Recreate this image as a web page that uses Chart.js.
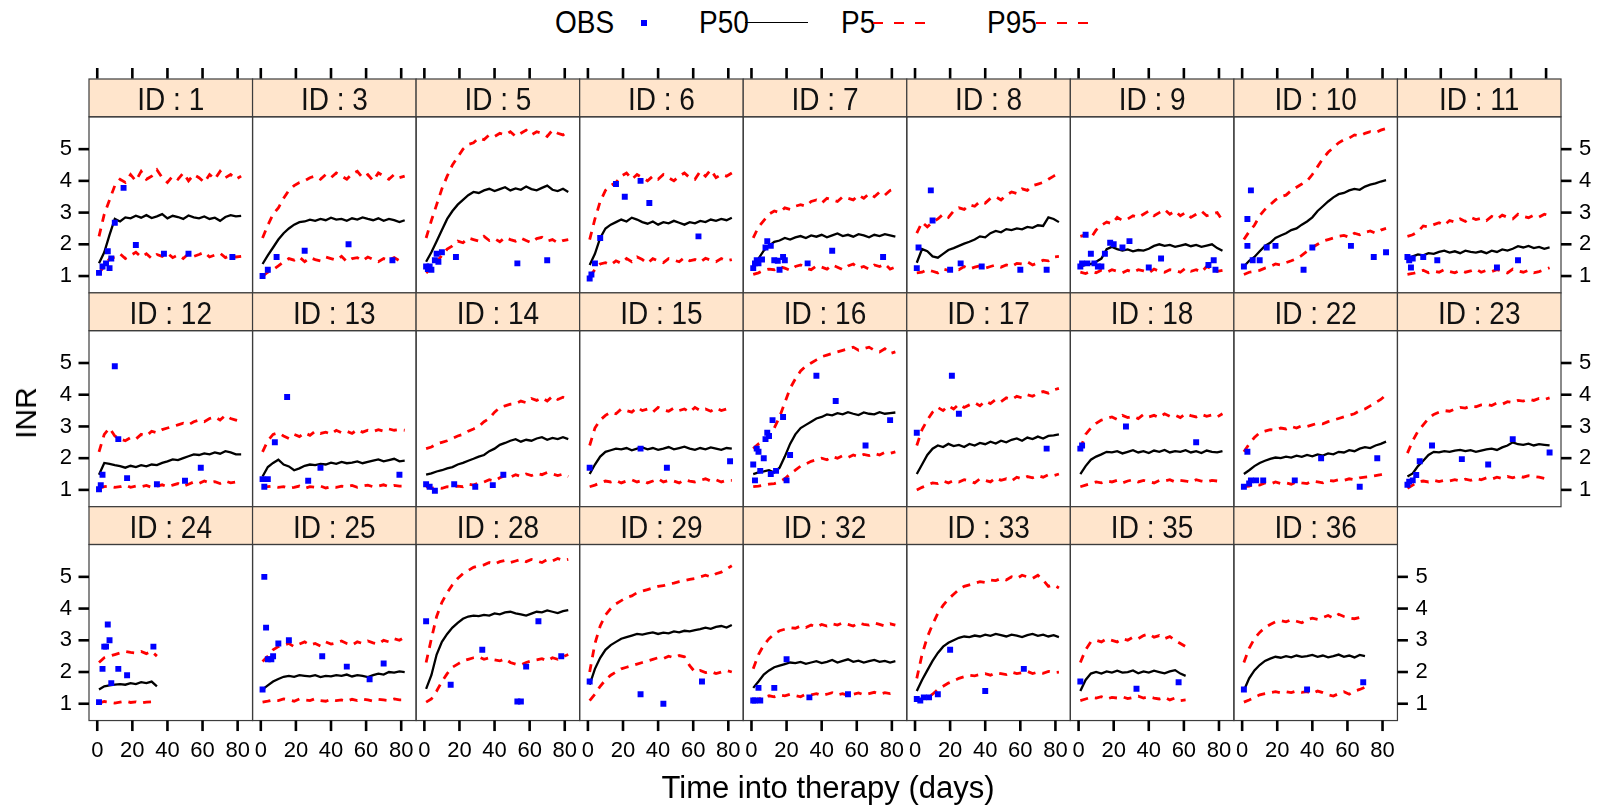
<!DOCTYPE html>
<html>
<head>
<meta charset="utf-8">
<script src="https://cdn.jsdelivr.net/npm/chart.js@4.4.0/dist/chart.umd.min.js"></script>
<style>
  html, body { margin: 0; padding: 0; background: #fff; overflow: hidden; }
  body { width: 1604px; height: 812px; position: relative; font-family: "Liberation Sans", Arial, sans-serif; }
  canvas { position: absolute; }
  .txt { position: absolute; white-space: nowrap; color: #000; line-height: 1; }
  .sym { position: absolute; }
</style>
</head>
<body>
<script>
// Patient panels, in lattice order (left to right, top to bottom)
const IDS = [1, 3, 5, 6, 7, 8, 9, 10, 11, 12, 13, 14, 15, 16, 17, 18, 22, 23, 24, 25, 28, 29, 32, 33, 35, 36];
// Simulation grid (days) shared by the percentile curves
const DAYS = [1, 4, 7, 10, 13, 16, 19, 22, 25, 28, 31, 34, 37, 40, 43, 46, 49, 52, 55, 58, 61, 64, 67, 70, 73, 76, 79, 82];
const X_TICKS = [0, 20, 40, 60, 80];
const Y_TICKS = [1, 2, 3, 4, 5];

// Median prediction per patient
const P50 = [
  [1.40,1.75,2.30,2.80,2.72,2.85,2.82,2.90,2.84,2.92,2.83,2.88,2.95,2.82,2.90,2.86,2.80,2.91,2.85,2.82,2.88,2.80,2.84,2.74,2.86,2.92,2.88,2.90],
  [1.38,1.65,1.90,2.15,2.35,2.50,2.62,2.70,2.72,2.78,2.74,2.80,2.76,2.84,2.78,2.80,2.74,2.82,2.78,2.85,2.80,2.76,2.82,2.74,2.80,2.76,2.70,2.76],
  [1.45,1.75,2.10,2.45,2.80,3.05,3.25,3.40,3.55,3.65,3.62,3.70,3.75,3.68,3.74,3.80,3.70,3.76,3.72,3.82,3.74,3.70,3.78,3.85,3.72,3.68,3.75,3.65],
  [1.35,1.70,2.20,2.50,2.62,2.70,2.78,2.72,2.84,2.78,2.70,2.65,2.72,2.62,2.70,2.66,2.74,2.68,2.62,2.70,2.66,2.74,2.70,2.78,2.74,2.80,2.76,2.84],
  [1.40,1.55,1.80,1.95,2.08,2.12,2.20,2.15,2.22,2.26,2.20,2.28,2.24,2.30,2.22,2.28,2.34,2.26,2.30,2.24,2.32,2.28,2.22,2.30,2.26,2.32,2.28,2.24],
  [1.42,1.85,1.78,1.62,1.58,1.70,1.82,1.88,1.95,2.02,2.08,2.15,2.25,2.22,2.35,2.42,2.38,2.48,2.45,2.50,2.47,2.55,2.52,2.60,2.58,2.85,2.80,2.70],
  [1.30,1.35,1.38,1.45,1.55,1.85,1.92,1.85,1.80,1.84,1.78,1.82,1.80,1.86,1.95,2.00,1.95,1.98,1.92,1.96,2.00,1.94,1.98,1.92,1.96,2.00,1.88,1.80],
  [1.30,1.48,1.60,1.78,1.95,2.05,2.20,2.28,2.35,2.45,2.50,2.62,2.72,2.85,3.05,3.20,3.35,3.48,3.58,3.62,3.70,3.75,3.72,3.82,3.88,3.92,3.98,4.02],
  [1.55,1.62,1.68,1.65,1.72,1.70,1.76,1.80,1.74,1.78,1.72,1.80,1.76,1.74,1.78,1.72,1.80,1.76,1.84,1.80,1.86,1.94,1.90,1.95,1.88,1.92,1.86,1.90],
  [1.48,1.85,1.82,1.78,1.75,1.70,1.76,1.72,1.78,1.74,1.80,1.78,1.85,1.90,1.96,1.94,2.00,2.06,2.12,2.10,2.15,2.12,2.18,2.14,2.22,2.18,2.12,2.12],
  [1.42,1.72,1.85,1.95,1.80,1.74,1.62,1.68,1.76,1.80,1.78,1.82,1.80,1.86,1.82,1.88,1.84,1.86,1.90,1.84,1.88,1.92,1.96,1.90,1.94,1.98,1.90,1.92],
  [1.48,1.52,1.58,1.62,1.68,1.72,1.80,1.85,1.92,1.98,2.05,2.10,2.22,2.30,2.42,2.48,2.55,2.60,2.52,2.58,2.55,2.62,2.66,2.58,2.64,2.60,2.66,2.60],
  [1.50,1.80,2.05,2.20,2.25,2.30,2.28,2.32,2.25,2.30,2.34,2.28,2.32,2.26,2.30,2.35,2.28,2.32,2.36,2.30,2.26,2.32,2.28,2.34,2.30,2.26,2.32,2.30],
  [1.50,1.55,1.58,1.62,1.55,1.70,2.05,2.45,2.75,2.95,3.05,3.15,3.25,3.30,3.38,3.35,3.42,3.38,3.45,3.40,3.36,3.44,3.40,3.38,3.45,3.40,3.42,3.44],
  [1.50,1.80,2.10,2.30,2.40,2.35,2.45,2.38,2.42,2.35,2.45,2.40,2.48,2.44,2.52,2.46,2.55,2.50,2.58,2.62,2.55,2.65,2.60,2.68,2.62,2.70,2.72,2.75],
  [1.50,1.75,1.95,2.05,2.12,2.20,2.18,2.22,2.15,2.20,2.25,2.18,2.22,2.16,2.24,2.20,2.26,2.18,2.22,2.20,2.25,2.18,2.22,2.16,2.24,2.20,2.18,2.22],
  [1.50,1.62,1.75,1.85,1.92,1.98,2.02,2.00,2.05,2.02,2.08,2.04,2.10,2.06,2.12,2.08,2.15,2.12,2.20,2.18,2.25,2.22,2.30,2.35,2.32,2.40,2.45,2.52],
  [1.42,1.52,1.75,1.92,2.10,2.20,2.18,2.22,2.20,2.24,2.26,2.22,2.25,2.20,2.24,2.28,2.30,2.26,2.34,2.40,2.50,2.44,2.42,2.46,2.40,2.44,2.42,2.40],
  [1.45,1.55,1.58,1.60,1.62,1.60,1.65,1.62,1.68,1.65,1.70,1.55],
  [1.45,1.58,1.70,1.78,1.85,1.88,1.85,1.90,1.88,1.86,1.90,1.84,1.88,1.86,1.90,1.88,1.92,1.86,1.90,1.88,1.84,1.90,1.95,1.92,2.00,1.98,2.02,2.00],
  [1.47,1.90,2.55,2.95,3.20,3.40,3.55,3.68,3.75,3.78,3.76,3.80,3.78,3.85,3.82,3.88,3.90,3.85,3.82,3.78,3.84,3.90,3.88,3.94,3.90,3.86,3.92,3.95],
  [1.60,2.10,2.45,2.70,2.85,2.95,3.05,3.10,3.15,3.20,3.18,3.22,3.25,3.20,3.24,3.22,3.28,3.25,3.30,3.28,3.32,3.35,3.40,3.36,3.42,3.45,3.40,3.48],
  [1.50,1.70,1.92,2.05,2.15,2.20,2.25,2.30,2.28,2.32,2.26,2.30,2.34,2.28,2.32,2.38,2.30,2.35,2.40,2.32,2.36,2.30,2.34,2.38,2.32,2.35,2.30,2.34],
  [1.40,1.75,2.05,2.35,2.60,2.80,2.92,3.00,3.08,3.12,3.10,3.15,3.12,3.18,3.14,3.20,3.16,3.12,3.18,3.15,3.10,3.16,3.20,3.14,3.18,3.12,3.16,3.10],
  [1.40,1.75,1.95,2.00,1.95,2.02,1.98,2.04,1.98,2.00,2.05,1.96,2.02,1.98,2.04,2.00,1.96,2.02,2.06,1.95,1.88],
  [1.42,1.80,2.05,2.22,2.35,2.42,2.48,2.45,2.50,2.46,2.52,2.48,2.50,2.54,2.48,2.52,2.46,2.50,2.55,2.48,2.52,2.46,2.54,2.50]
];

// Upper 95th percentile
const P95 = [
  [2.25,2.95,3.40,3.85,4.05,3.95,4.20,4.00,4.30,4.05,4.15,4.35,4.10,3.95,4.15,4.05,4.25,4.00,4.20,4.10,3.95,4.20,4.05,4.30,4.10,4.20,4.05,4.15],
  [2.20,2.60,2.95,3.15,3.45,3.70,3.85,3.95,4.00,4.10,4.15,4.05,4.20,4.10,4.25,4.15,4.05,4.22,4.30,4.10,4.20,4.00,4.25,4.15,4.05,4.20,4.10,4.15],
  [2.20,2.75,3.25,3.75,4.15,4.50,4.75,5.00,5.15,5.20,5.35,5.30,5.45,5.40,5.50,5.45,5.55,5.40,5.50,5.60,5.45,5.55,5.50,5.40,5.60,5.50,5.45,5.55],
  [2.15,2.80,3.35,3.70,3.85,3.95,4.15,4.25,4.05,4.20,4.10,4.00,4.15,4.05,4.20,4.10,4.00,4.15,4.25,4.10,4.05,4.30,4.15,4.35,4.10,4.20,4.15,4.25],
  [2.20,2.55,2.75,2.95,3.05,3.00,3.15,3.10,3.20,3.25,3.20,3.35,3.40,3.30,3.45,3.40,3.35,3.50,3.45,3.40,3.55,3.45,3.60,3.50,3.65,3.55,3.70,3.75],
  [2.35,2.70,2.55,2.70,2.80,2.95,2.85,3.05,3.15,3.10,3.25,3.20,3.35,3.30,3.45,3.50,3.40,3.55,3.65,3.60,3.75,3.70,3.85,3.90,3.95,4.05,4.15,4.25],
  [2.25,2.30,2.20,2.45,2.60,2.70,2.65,2.85,2.75,2.80,2.90,2.85,2.95,3.05,2.90,3.00,3.10,2.95,3.05,2.90,3.00,2.85,2.95,3.05,2.90,2.95,3.00,2.75],
  [2.15,2.40,2.60,2.90,3.10,3.25,3.40,3.50,3.55,3.70,3.80,3.90,4.00,4.20,4.45,4.70,4.90,5.05,5.20,5.30,5.35,5.45,5.42,5.50,5.55,5.52,5.60,5.65],
  [2.25,2.30,2.40,2.58,2.55,2.62,2.68,2.60,2.75,2.70,2.80,2.72,2.85,2.78,2.82,2.75,2.88,2.80,2.92,2.85,2.80,2.95,2.88,2.84,2.92,2.86,2.95,2.90],
  [2.20,2.75,2.95,2.70,2.60,2.55,2.65,2.60,2.75,2.70,2.85,2.80,2.90,2.95,3.00,3.05,3.10,3.05,3.15,3.20,3.15,3.25,3.30,3.20,3.35,3.25,3.20,3.15],
  [2.20,2.55,2.75,2.80,2.70,2.62,2.75,2.68,2.80,2.72,2.85,2.78,2.82,2.76,2.88,2.80,2.85,2.78,2.90,2.82,2.88,2.84,2.90,2.85,2.92,2.88,2.90,2.88],
  [2.30,2.35,2.45,2.50,2.55,2.62,2.70,2.75,2.85,2.92,3.00,3.15,3.25,3.45,3.60,3.65,3.70,3.72,3.80,3.75,3.88,3.82,3.90,3.80,3.95,3.85,3.92,3.85],
  [2.40,2.95,3.20,3.35,3.45,3.40,3.55,3.50,3.45,3.60,3.50,3.55,3.45,3.60,3.52,3.48,3.58,3.50,3.55,3.45,3.60,3.50,3.55,3.48,3.58,3.50,3.55,3.50],
  [2.30,2.45,2.55,2.70,2.95,3.30,3.75,4.20,4.50,4.75,4.90,5.00,5.10,5.20,5.25,5.30,5.35,5.40,5.45,5.50,5.40,5.45,5.50,5.40,5.35,5.45,5.30,5.35],
  [2.40,2.90,3.20,3.45,3.60,3.50,3.65,3.55,3.70,3.60,3.68,3.75,3.65,3.80,3.72,3.85,3.78,3.90,3.85,3.95,3.90,4.00,3.95,4.05,4.10,4.05,4.15,4.20],
  [2.30,2.75,2.95,3.10,3.20,3.25,3.30,3.22,3.35,3.28,3.32,3.25,3.38,3.30,3.35,3.28,3.40,3.32,3.36,3.28,3.40,3.34,3.30,3.38,3.32,3.36,3.30,3.40],
  [2.20,2.45,2.65,2.80,2.85,2.90,2.88,2.95,2.92,3.00,2.95,3.02,3.00,3.05,3.10,3.08,3.15,3.20,3.25,3.30,3.35,3.40,3.50,3.55,3.65,3.75,3.85,4.00],
  [2.16,2.55,2.85,3.05,3.25,3.38,3.45,3.50,3.48,3.55,3.60,3.58,3.65,3.62,3.68,3.70,3.66,3.74,3.70,3.78,3.75,3.82,3.80,3.86,3.82,3.88,3.85,3.90],
  [2.30,2.45,2.50,2.55,2.60,2.65,2.62,2.60,2.65,2.58,2.65,2.50],
  [2.33,2.50,2.70,2.80,2.85,2.90,2.80,2.88,2.95,2.85,2.90,2.82,2.95,2.88,2.92,2.98,2.90,2.85,2.95,2.90,2.98,2.92,2.88,3.00,2.95,3.05,3.00,3.10],
  [2.30,3.05,3.75,4.20,4.50,4.75,4.95,5.10,5.20,5.30,5.35,5.38,5.45,5.40,5.48,5.52,5.45,5.50,5.55,5.48,5.55,5.50,5.45,5.55,5.50,5.58,5.52,5.55],
  [2.00,2.90,3.45,3.80,4.00,4.15,4.25,4.35,4.40,4.50,4.55,4.60,4.65,4.70,4.72,4.78,4.80,4.85,4.88,4.92,4.95,5.00,5.05,5.00,5.10,5.15,5.25,5.35],
  [2.10,2.55,2.85,3.05,3.20,3.30,3.35,3.40,3.38,3.45,3.40,3.48,3.42,3.50,3.45,3.52,3.48,3.55,3.50,3.45,3.55,3.50,3.48,3.55,3.50,3.45,3.52,3.48],
  [1.80,2.55,3.10,3.50,3.85,4.10,4.30,4.45,4.60,4.70,4.75,4.80,4.85,4.82,4.90,4.88,4.95,4.90,5.00,4.95,5.05,5.00,4.95,5.05,4.90,4.70,4.75,4.65],
  [2.30,2.70,2.95,3.00,2.95,3.05,3.00,2.95,3.05,3.00,3.10,3.05,3.15,3.20,3.10,3.15,3.05,3.12,3.00,2.90,2.80],
  [2.30,2.75,3.05,3.25,3.40,3.50,3.58,3.62,3.58,3.65,3.60,3.55,3.65,3.70,3.66,3.72,3.78,3.70,3.82,3.75,3.70,3.68,3.72,3.70]
];

// Lower 5th percentile
const P5 = [
  [1.10,1.30,1.55,1.60,1.70,1.55,1.65,1.75,1.60,1.70,1.55,1.68,1.62,1.72,1.58,1.66,1.55,1.70,1.62,1.68,1.75,1.60,1.66,1.72,1.58,1.65,1.60,1.62],
  [1.00,1.12,1.20,1.32,1.45,1.55,1.50,1.60,1.45,1.58,1.52,1.48,1.60,1.55,1.50,1.62,1.45,1.55,1.58,1.48,1.60,1.52,1.45,1.55,1.50,1.58,1.48,1.52],
  [1.10,1.25,1.45,1.65,1.85,1.95,2.10,2.05,2.20,2.15,2.10,2.25,2.12,2.18,2.08,2.22,2.15,2.10,2.20,2.12,2.05,2.18,2.22,2.10,2.15,2.05,2.12,2.15],
  [1.00,1.20,1.38,1.42,1.35,1.48,1.40,1.55,1.45,1.60,1.52,1.40,1.55,1.48,1.42,1.55,1.50,1.45,1.58,1.48,1.52,1.44,1.56,1.50,1.45,1.55,1.48,1.52],
  [1.05,1.10,1.18,1.22,1.20,1.30,1.25,1.18,1.30,1.35,1.25,1.20,1.32,1.28,1.22,1.35,1.28,1.20,1.32,1.38,1.25,1.30,1.22,1.35,1.30,1.38,1.22,1.28],
  [1.10,1.12,1.20,1.15,1.10,1.22,1.18,1.25,1.20,1.30,1.22,1.28,1.32,1.25,1.30,1.35,1.28,1.35,1.30,1.40,1.38,1.45,1.35,1.42,1.50,1.48,1.60,1.62],
  [1.12,1.08,1.15,1.10,1.18,1.12,1.20,1.15,1.10,1.18,1.12,1.20,1.16,1.10,1.22,1.15,1.12,1.20,1.18,1.12,1.25,1.15,1.20,1.12,1.30,1.22,1.15,1.18],
  [1.05,1.12,1.15,1.18,1.25,1.30,1.38,1.35,1.42,1.48,1.55,1.65,1.78,1.90,2.00,2.10,2.15,2.20,2.25,2.28,2.22,2.35,2.30,2.38,2.42,2.35,2.45,2.50],
  [1.05,1.08,1.12,1.18,1.10,1.15,1.12,1.20,1.14,1.10,1.18,1.12,1.16,1.22,1.12,1.18,1.14,1.20,1.15,1.10,1.22,1.16,1.12,1.18,1.10,1.14,1.20,1.26],
  [1.05,1.10,1.12,1.08,1.10,1.15,1.08,1.12,1.10,1.14,1.08,1.12,1.16,1.10,1.15,1.20,1.12,1.18,1.25,1.20,1.28,1.22,1.26,1.20,1.28,1.22,1.25,1.20],
  [1.08,1.10,1.12,1.08,1.10,1.05,1.08,1.12,1.05,1.10,1.08,1.12,1.06,1.10,1.08,1.12,1.10,1.14,1.08,1.12,1.15,1.10,1.12,1.16,1.10,1.14,1.12,1.12],
  [1.10,1.05,1.08,1.05,1.10,1.08,1.12,1.10,1.18,1.15,1.22,1.25,1.32,1.28,1.38,1.45,1.40,1.48,1.42,1.50,1.45,1.52,1.48,1.55,1.50,1.45,1.50,1.42],
  [1.10,1.15,1.22,1.28,1.25,1.30,1.22,1.28,1.32,1.25,1.30,1.22,1.28,1.35,1.25,1.30,1.28,1.22,1.32,1.28,1.25,1.30,1.35,1.28,1.32,1.25,1.30,1.30],
  [1.10,1.12,1.15,1.18,1.20,1.25,1.35,1.50,1.62,1.75,1.82,1.90,1.95,2.00,1.95,2.05,2.00,2.08,2.02,2.10,2.05,2.12,2.08,2.15,2.10,2.18,2.15,2.20],
  [1.00,1.08,1.15,1.22,1.20,1.28,1.22,1.30,1.25,1.32,1.28,1.22,1.35,1.30,1.25,1.38,1.30,1.35,1.28,1.40,1.35,1.42,1.38,1.45,1.40,1.48,1.45,1.50],
  [1.10,1.15,1.20,1.25,1.22,1.28,1.25,1.30,1.22,1.28,1.32,1.25,1.30,1.26,1.22,1.30,1.28,1.32,1.25,1.30,1.28,1.24,1.32,1.28,1.25,1.30,1.28,1.30],
  [1.10,1.12,1.18,1.15,1.22,1.18,1.25,1.20,1.22,1.18,1.25,1.22,1.20,1.28,1.25,1.22,1.30,1.28,1.32,1.30,1.35,1.32,1.38,1.40,1.42,1.45,1.48,1.52],
  [1.05,1.15,1.25,1.28,1.25,1.30,1.26,1.30,1.28,1.32,1.28,1.34,1.30,1.36,1.32,1.38,1.34,1.40,1.36,1.42,1.38,1.44,1.40,1.45,1.42,1.40,1.36,1.34],
  [1.02,1.07,1.05,1.02,1.05,1.08,1.04,1.06,1.02,1.05,1.06,1.04],
  [1.05,1.08,1.12,1.10,1.15,1.12,1.08,1.15,1.12,1.10,1.16,1.10,1.08,1.14,1.10,1.12,1.08,1.14,1.10,1.15,1.12,1.08,1.14,1.12,1.10,1.15,1.12,1.12],
  [1.05,1.15,1.40,1.70,1.95,2.15,2.25,2.35,2.40,2.45,2.48,2.40,2.45,2.38,2.35,2.42,2.30,2.25,2.22,2.30,2.35,2.38,2.42,2.35,2.45,2.40,2.48,2.55],
  [1.10,1.30,1.55,1.75,1.90,2.00,2.10,2.15,2.20,2.25,2.30,2.35,2.40,2.45,2.42,2.50,2.45,2.52,2.48,2.20,2.00,2.05,1.98,2.02,1.95,2.00,2.05,2.00],
  [1.10,1.15,1.20,1.25,1.22,1.28,1.25,1.30,1.26,1.22,1.30,1.28,1.32,1.26,1.30,1.35,1.28,1.32,1.26,1.30,1.34,1.28,1.32,1.36,1.30,1.35,1.32,1.35],
  [1.10,1.15,1.20,1.30,1.45,1.55,1.65,1.72,1.80,1.85,1.90,1.88,1.92,1.95,1.90,1.98,1.95,1.92,2.00,1.95,1.98,2.02,1.95,2.00,1.96,2.02,1.98,2.00],
  [1.10,1.15,1.20,1.18,1.22,1.15,1.20,1.18,1.22,1.16,1.20,1.24,1.18,1.22,1.18,1.15,1.20,1.12,1.18,1.10,1.12],
  [1.05,1.12,1.20,1.28,1.32,1.35,1.38,1.34,1.38,1.35,1.40,1.36,1.38,1.32,1.40,1.35,1.28,1.24,1.32,1.38,1.30,1.40,1.45,1.52]
];

// Observed INR: measurement day and value
const OBS_DAY = [
  [1,3,5,6,7,8,10,15,22,38,52,77],
  [1,4,9,25,50,75],
  [1,2,3,4,6,7,8,10,18,53,70],
  [1,2,4,7,16,21,30,35,63],
  [1,2,3,4,6,8,9,11,13,15,16,18,19,32,46,75],
  [1,2,9,10,20,26,38,60,75],
  [1,2,4,5,7,9,11,13,15,18,20,25,29,40,47,74,77,78],
  [1,3,3,5,6,10,14,19,35,40,62,75,82],
  [1,2,3,4,10,18,52,64],
  [1,2,3,10,12,17,34,50,59],
  [1,2,4,8,15,27,34,79],
  [1,3,6,17,29,39,45],
  [1,30,45,81],
  [1,2,3,4,5,7,8,9,10,11,12,14,18,20,22,37,48,65,79],
  [1,21,25,75],
  [1,2,27,67],
  [1,3,4,5,8,12,30,45,67,77],
  [1,2,4,6,8,15,32,47,61,82],
  [1,3,4,5,6,7,8,12,17,32],
  [1,2,3,4,6,7,10,16,35,49,62,70],
  [1,15,33,53,55,58,65,78],
  [1,30,43,65],
  [1,2,4,5,13,20,33,55],
  [1,3,5,8,13,20,40,62],
  [1,33,57],
  [1,37,69]
];
const OBS_INR = [
  [1.10,1.30,1.40,1.78,1.25,1.55,2.68,3.78,1.98,1.70,1.70,1.60],
  [1.00,1.20,1.60,1.80,2.00,1.50],
  [1.30,1.22,1.30,1.20,1.50,1.70,1.45,1.75,1.60,1.40,1.50],
  [0.92,1.05,1.40,2.20,3.90,3.50,4.00,3.30,2.25],
  [1.25,1.40,1.50,1.40,1.52,1.90,2.10,1.95,1.50,1.48,1.20,1.60,1.50,1.40,1.80,1.60],
  [1.25,1.90,3.70,2.75,1.20,1.40,1.30,1.20,1.20],
  [1.30,1.40,2.30,1.40,1.70,1.40,1.30,1.30,1.70,2.05,2.00,1.90,2.10,1.27,1.55,1.35,1.50,1.20],
  [1.30,1.95,2.80,3.70,1.50,1.50,1.90,1.95,1.20,1.90,1.95,1.60,1.75],
  [1.60,1.50,1.27,1.55,1.60,1.50,1.27,1.50],
  [1.02,1.15,1.48,4.90,2.60,1.37,1.18,1.29,1.70],
  [1.34,1.10,1.34,2.50,3.93,1.29,1.70,1.48],
  [1.18,1.10,0.97,1.18,1.10,1.15,1.48],
  [1.70,2.30,1.70,1.90],
  [1.80,1.30,2.30,2.20,1.60,2.00,2.60,2.80,2.70,1.50,3.20,1.60,3.30,1.30,2.10,4.60,3.80,2.40,3.20],
  [2.80,4.60,3.40,2.30],
  [2.30,2.40,3.00,2.50],
  [1.10,2.20,1.20,1.30,1.30,1.30,1.30,2.00,1.10,2.00],
  [1.16,1.26,1.30,1.47,1.90,2.40,1.97,1.80,2.60,2.18],
  [1.05,2.10,2.80,2.80,3.50,3.00,1.65,2.10,1.90,2.80],
  [1.45,5.00,3.40,2.40,2.40,2.50,2.90,3.00,2.50,2.17,1.77,2.27],
  [3.60,1.60,2.70,1.07,1.07,2.17,3.60,2.50],
  [1.70,1.30,1.00,1.70],
  [1.10,1.10,1.50,1.10,1.50,2.40,1.20,1.30],
  [1.15,1.10,1.20,1.20,1.30,2.70,1.40,2.10],
  [1.70,1.47,1.68],
  [1.45,1.45,1.68]
];

// ---- layout ----
const FONT = '"Liberation Sans", Arial, sans-serif';
const NARROW = 0.875;              // horizontal squeeze of strip and key text
const GRID_LEFT = 89, GRID_RIGHT = 1561, NCOL = 9;
const CELL_W = (GRID_RIGHT - GRID_LEFT) / NCOL;
const ROW_TOP = [79, 292.85, 506.7];
const STRIP_H = 37.8, PANEL_H = 176.05;
const X_MIN = -4.7, X_MAX = 88.5, Y_MIN = 0.47, Y_MAX = 6.02;
const TICK_LEN = 10.5;

function pairs(xs, ys) {
  return ys.map((v, k) => ({ x: xs[k], y: v }));
}

function narrowText(ctx, str, x, y, size) {
  ctx.save();
  ctx.translate(x, y);
  ctx.scale(NARROW, 1);
  ctx.font = size + 'px ' + FONT;
  ctx.fillText(str, 0, 0);
  ctx.restore();
}

function tick(ctx, x1, y1, x2, y2) {
  ctx.beginPath();
  ctx.moveTo(x1, y1);
  ctx.lineTo(x2, y2);
  ctx.stroke();
}

// strip, frame and axis ticks of one lattice panel
const latticePlugin = {
  id: 'lattice',
  afterDraw(chart, args, o) {
    const { ctx, chartArea: a } = chart;
    const xs = chart.scales.x, ys = chart.scales.y;
    const w = a.right - a.left;
    ctx.save();
    ctx.fillStyle = '#ffe5cc';
    ctx.fillRect(a.left, a.top - STRIP_H, w, STRIP_H);
    ctx.strokeStyle = '#3c3c3c';
    ctx.lineWidth = 1.2;
    ctx.strokeRect(a.left, a.top - STRIP_H, w, STRIP_H);
    ctx.strokeRect(a.left, a.top, w, a.bottom - a.top);

    ctx.fillStyle = '#111';
    ctx.textAlign = 'center';
    ctx.textBaseline = 'alphabetic';
    narrowText(ctx, 'ID : ' + o.id, (a.left + a.right) / 2, a.top - STRIP_H + 31, 32);

    ctx.strokeStyle = '#000';
    ctx.lineWidth = 2.6;
    ctx.font = '22px ' + FONT;
    ctx.fillStyle = '#000';
    if (o.top) {
      X_TICKS.forEach(v => {
        const px = xs.getPixelForValue(v);
        tick(ctx, px, a.top - STRIP_H - 0.5, px, a.top - STRIP_H - 0.5 - TICK_LEN);
      });
    }
    if (o.bottom) {
      ctx.textAlign = 'center';
      ctx.textBaseline = 'middle';
      X_TICKS.forEach(v => {
        const px = xs.getPixelForValue(v);
        tick(ctx, px, a.bottom, px, a.bottom + TICK_LEN);
        ctx.fillText(String(v), px, a.bottom + 30);
      });
    }
    if (o.left) {
      ctx.textAlign = 'right';
      ctx.textBaseline = 'middle';
      Y_TICKS.forEach(v => {
        const py = ys.getPixelForValue(v);
        tick(ctx, a.left - TICK_LEN, py, a.left, py);
        ctx.fillText(String(v), a.left - 17, py);
      });
    }
    if (o.right) {
      ctx.textAlign = 'left';
      ctx.textBaseline = 'middle';
      Y_TICKS.forEach(v => {
        const py = ys.getPixelForValue(v);
        tick(ctx, a.right, py, a.right + TICK_LEN, py);
        ctx.fillText(String(v), a.right + 18, py);
      });
    }
    ctx.restore();
  }
};

IDS.forEach((id, i) => {
  const col = i % NCOL, row = Math.floor(i / NCOL);
  const pl = GRID_LEFT + col * CELL_W, pr = pl + CELL_W;
  const st = ROW_TOP[row], pt = st + STRIP_H, pb = pt + PANEL_H;
  const cl = Math.floor(pl) - 70, ct = Math.floor(st) - 20;
  const cw = Math.ceil(pr) + 70 - cl, ch = Math.ceil(pb) + 50 - ct;

  const cv = document.createElement('canvas');
  cv.width = cw;
  cv.height = ch;
  cv.style.left = cl + 'px';
  cv.style.top = ct + 'px';
  document.body.appendChild(cv);

  const n = P50[i].length;
  const days = DAYS.slice(0, n);

  new Chart(cv, {
    type: 'line',
    data: {
      datasets: [
        {
          label: 'OBS',
          data: pairs(OBS_DAY[i], OBS_INR[i]),
          showLine: false,
          pointStyle: 'rect',
          pointRadius: 4.2,
          pointBackgroundColor: '#0000ff',
          pointBorderWidth: 0
        },
        {
          label: 'P50',
          data: pairs(days, P50[i]),
          borderColor: '#000',
          borderWidth: 2.3,
          pointRadius: 0
        },
        {
          label: 'P5',
          data: pairs(days, P5[i]),
          borderColor: '#ff0000',
          borderWidth: 2.8,
          borderDash: [8, 7],
          pointRadius: 0
        },
        {
          label: 'P95',
          data: pairs(days, P95[i]),
          borderColor: '#ff0000',
          borderWidth: 2.8,
          borderDash: [8, 7],
          pointRadius: 0
        }
      ]
    },
    options: {
      responsive: false,
      animation: false,
      events: [],
      devicePixelRatio: 1,
      layout: { padding: { left: pl - cl, right: cl + cw - pr, top: pt - ct, bottom: ct + ch - pb } },
      elements: { line: { tension: 0 } },
      scales: {
        x: { type: 'linear', min: X_MIN, max: X_MAX, display: false },
        y: { type: 'linear', min: Y_MIN, max: Y_MAX, display: false }
      },
      plugins: {
        legend: { display: false },
        tooltip: { enabled: false },
        lattice: {
          id: id,
          top: row === 0,
          bottom: row === 2,
          left: col === 0,
          right: col === NCOL - 1 || i === IDS.length - 1
        }
      }
    },
    plugins: [latticePlugin]
  });
});

// ---- key and axis titles ----
function addText(str, left, baseline, size, centred, squeeze) {
  const el = document.createElement('div');
  el.className = 'txt';
  el.textContent = str;
  el.style.fontSize = size + 'px';
  el.style.top = (baseline - 0.8465 * size) + 'px';
  el.style.left = left + 'px';
  if (centred) {
    el.style.transformOrigin = '50% 50%';
    el.style.transform = 'translateX(-50%) scaleX(' + squeeze + ')';
  } else {
    el.style.transformOrigin = '0 50%';
    el.style.transform = 'scaleX(' + squeeze + ')';
  }
  document.body.appendChild(el);
  return el;
}

function addBox(left, top, w, h, color) {
  const el = document.createElement('div');
  el.className = 'sym';
  Object.assign(el.style, { left: left + 'px', top: top + 'px', width: w + 'px', height: h + 'px', background: color });
  document.body.appendChild(el);
}

function addDashes(x0, x1, y, color) {
  for (let x = x0; x + 4 < x1; x += 21) addBox(x, y - 1, Math.min(10, x1 - x), 2, color);
}

const KEY_Y = 22.5, KEY_BASE = 33.5;
addText('OBS', 555, KEY_BASE, 32, false, NARROW);
addBox(641, KEY_Y - 3, 6, 6, '#0000ff');
addText('P50', 699, KEY_BASE, 32, false, NARROW);
addBox(745, KEY_Y - 0.8, 63, 1.6, '#000');
addText('P5', 841, KEY_BASE, 32, false, NARROW);
addDashes(873, 926, KEY_Y, '#ff0000');
addText('P95', 987, KEY_BASE, 32, false, NARROW);
addDashes(1036, 1093, KEY_Y, '#ff0000');

addText('Time into therapy (days)', 828, 798.5, 31, true, 1);

const ylab = document.createElement('div');
ylab.className = 'txt';
ylab.textContent = 'INR';
Object.assign(ylab.style, {
  fontSize: '30px', left: '26px', top: '413px',
  transformOrigin: '50% 50%',
  transform: 'translate(-50%, -50%) rotate(-90deg)'
});
document.body.appendChild(ylab);
</script>
</body>
</html>
